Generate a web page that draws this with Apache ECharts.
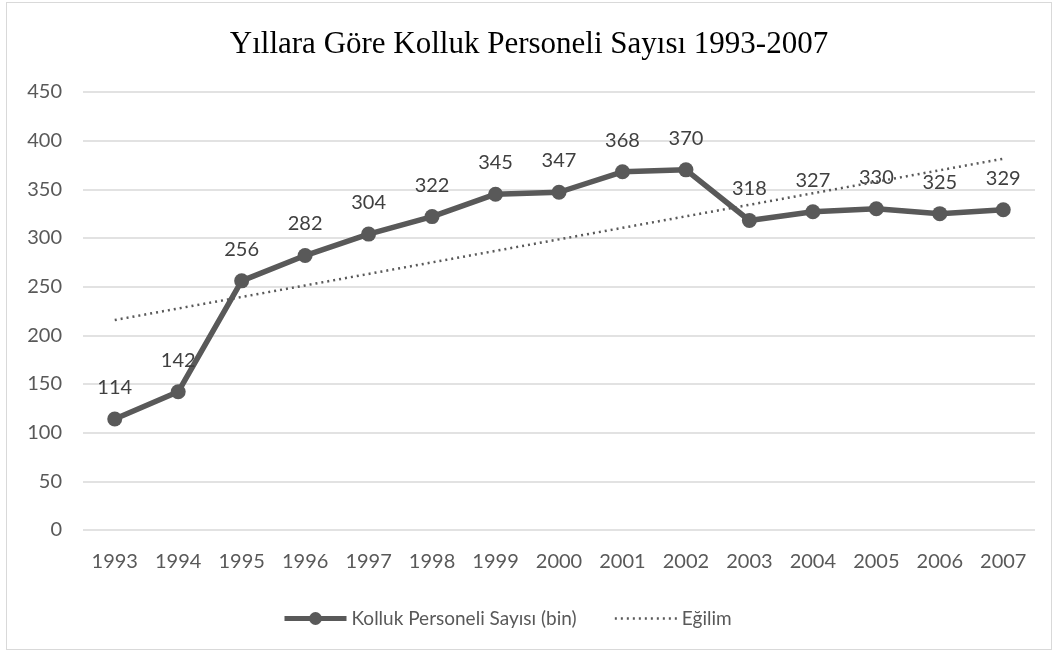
<!DOCTYPE html>
<html><head><meta charset="utf-8">
<script src="https://cdn.jsdelivr.net/npm/echarts@6/dist/echarts.min.js"></script>
<style>
html,body{margin:0;padding:0;background:#fff;}
#frame{position:absolute;left:6px;top:2px;width:1046px;height:648px;border:1.5px solid #d9d9d9;box-sizing:border-box;}
#c{position:absolute;left:0;top:0;width:1058px;height:654px;}
</style></head>
<body>
<div id="frame"></div>
<div id="c"></div>
<script>
const years = ['1993','1994','1995','1996','1997','1998','1999','2000','2001','2002','2003','2004','2005','2006','2007'];
const personel = [114,142,256,282,304,322,345,347,368,370,318,327,330,325,329];
const yTicks = [0,50,100,150,200,250,300,350,400,450];
const title = 'Yıllara Göre Kolluk Personeli Sayısı 1993-2007';
const seriesName = 'Kolluk Personeli Sayısı (bin)';
const trendName = 'Eğilim';

// linear trend (least squares) of the series, as Excel's trendline
const n = personel.length;
let sx=0, sy=0, sxy=0, sxx=0;
personel.forEach((v,i)=>{sx+=i;sy+=v;sxy+=i*v;sxx+=i*i;});
const slope = (n*sxy - sx*sy)/(n*sxx - sx*sx);
const icpt = (sy - slope*sx)/n;
const trend = personel.map((v,i)=>icpt+slope*i);

const chart = echarts.init(document.getElementById('c'));
const font = 'Lato, Carlito, "Open Sans", sans-serif';
chart.setOption({
  animation:false,
  title:{text:title,left:'center',top:24,textStyle:{fontFamily:'"Liberation Serif","Times New Roman",serif',fontWeight:'normal',fontSize:31,color:'#000'}},
  grid:{left:83,right:23,top:92,bottom:124},
  legend:{top:604,left:277,itemGap:37,itemWidth:62,itemHeight:16,
    textStyle:{fontFamily:font,fontSize:19,color:'#595959'},
    data:[{name:seriesName,lineStyle:{width:5}},{name:trendName,itemStyle:{opacity:0},lineStyle:{width:2.5}}]},
  xAxis:{type:'category',data:years,boundaryGap:true,
    axisLine:{show:false},axisTick:{show:false},
    axisLabel:{fontFamily:font,fontSize:20,color:'#595959',margin:22}},
  yAxis:{type:'value',min:yTicks[0],max:yTicks[yTicks.length-1],interval:50,
    axisLine:{show:false},axisTick:{show:false},
    axisLabel:{fontFamily:font,fontSize:20,color:'#595959',margin:21},
    splitLine:{lineStyle:{color:'#d9d9d9',width:1.5}}},
  series:[
    {name:seriesName,type:'line',data:personel,symbol:'circle',symbolSize:15,
     lineStyle:{color:'#595959',width:5.5},itemStyle:{color:'#595959'},
     label:{show:true,position:'top',distance:14,fontFamily:font,fontSize:20,color:'#404040'},z:3},
    {name:trendName,type:'line',data:trend,symbol:'none',
     lineStyle:{color:'#595959',width:2.5,type:[2,4]},itemStyle:{color:'#595959'},z:4,
     silent:true}
  ]
});
</script>
</body></html>
